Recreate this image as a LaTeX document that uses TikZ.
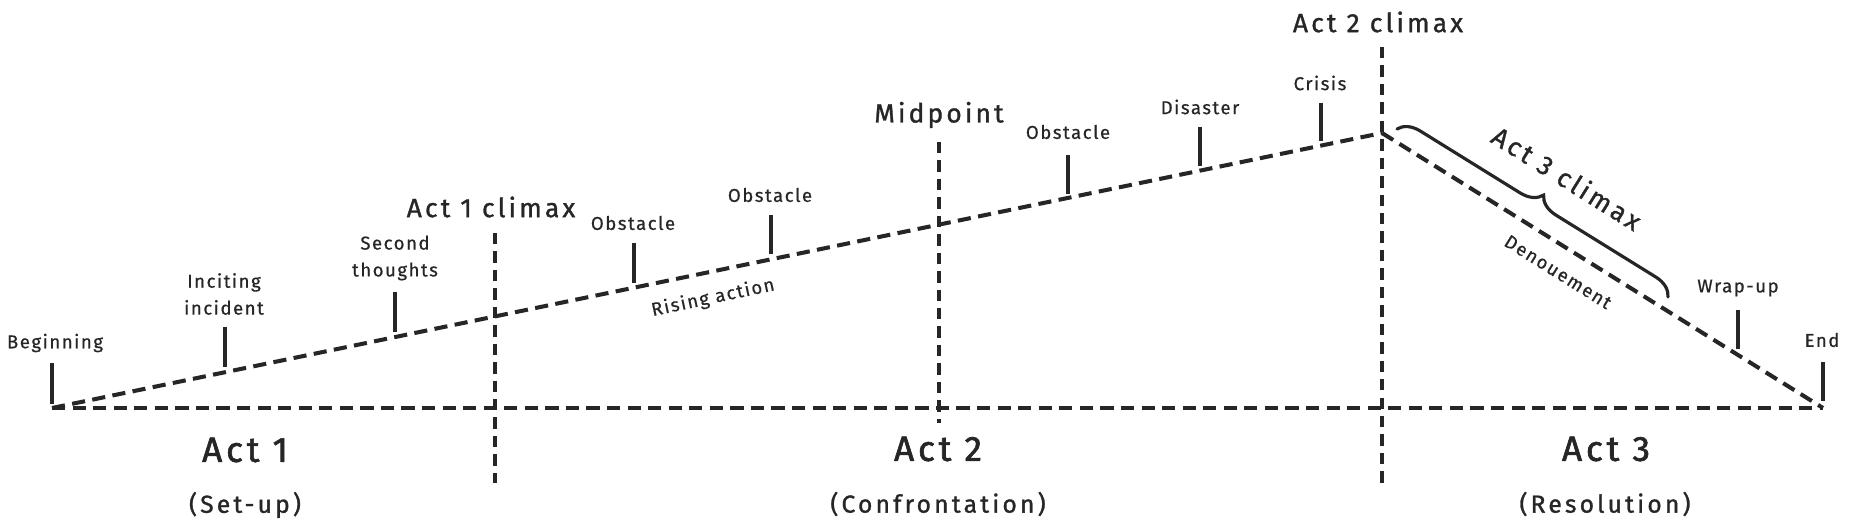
\documentclass[tikz,border=0pt]{standalone}
\usepackage{fontspec}
\setmainfont{Fira Sans}[LetterSpace=8, FakeBold=0.6]
\newfontfamily\bigfont{Fira Sans}[LetterSpace=12, FakeBold=1.2]
\newfontfamily\actfont{Fira Sans}[LetterSpace=11, FakeBold=1.8]
\newfontfamily\subfont{Fira Sans}[LetterSpace=13, FakeBold=1.2]
\usetikzlibrary{decorations.pathreplacing}
\definecolor{ink}{HTML}{262626}
\tikzset{
  dline/.style={draw=ink, line width=2.3pt, dash pattern=on 7.5pt off 4.2pt},
  vline/.style={draw=ink, line width=2.1pt, dash pattern=on 6.5pt off 4pt},
  tick/.style={draw=ink, line width=2.2pt},
  small/.style={text=ink, font=\fontsize{10.6}{15.3}\selectfont, align=center, inner sep=0pt},
  big/.style={text=ink, font=\bigfont\fontsize{15}{17}\selectfont, inner sep=0pt},
  actlbl/.style={text=ink, font=\actfont\fontsize{20}{22}\selectfont, inner sep=0pt},
  sublbl/.style={text=ink, font=\subfont\fontsize{14}{16}\selectfont, inner sep=0pt},
  bracestyle/.style={draw=ink, line width=1.8pt, line cap=round, decorate,
     decoration={brace, amplitude=12pt}}
}
\begin{document}
\begin{tikzpicture}[x=0.02cm, y=-0.02cm]
\useasboundingbox (0,0) rectangle (1855,530);
% main points
\coordinate (B) at (52,408);
\coordinate (A) at (1382,133);
\coordinate (E) at (1823,408);
% main lines
\draw[dline] (B) -- (E);
\draw[dline] (B) -- (A);
\draw[dline] (A) -- (E);
% act dividers
\coordinate (c1t) at (495,233); \coordinate (c1b) at (495,483);
\coordinate (mpt) at (939,142); \coordinate (mpb) at (939,423);
\coordinate (c2t) at (1382,47);  \coordinate (c2b) at (1382,483);
\draw[vline] (c1t) -- (c1b);
\draw[vline] (mpt) -- (mpb);
\draw[vline] (c2t) -- (c2b);
% ticks
\coordinate (t0a) at (52,404);   \coordinate (t0b) at (52,363);
\coordinate (t1a) at (225,367);  \coordinate (t1b) at (225,327);
\coordinate (t2a) at (395,332);  \coordinate (t2b) at (395,292);
\coordinate (t3a) at (634,283);  \coordinate (t3b) at (634,243);
\coordinate (t4a) at (771,254);  \coordinate (t4b) at (771,215);
\coordinate (t5a) at (1068,194); \coordinate (t5b) at (1068,155);
\coordinate (t6a) at (1200,166); \coordinate (t6b) at (1200,127);
\coordinate (t7a) at (1321,141); \coordinate (t7b) at (1321,103);
\coordinate (t8a) at (1738,349); \coordinate (t8b) at (1738,310);
\coordinate (t9a) at (1823,401); \coordinate (t9b) at (1823,362);
\foreach \i in {0,...,9} { \draw[tick] (t\i a) -- (t\i b); }
% labels
\node[small] (beg) at (55,343) {Beginning};
\node[small] (inc) at (224,294) {Inciting\\incident};
\node[small] (sec) at (395,258) {Second\\thoughts};
\node[big]   (a1c) at (491,207) {Act 1 climax};
\node[small] (ob1) at (633,223) {Obstacle};
\node[small] (ob2) at (770,195) {Obstacle};
\node[small, rotate=12] (ris) at (713,298) {Rising action};
\node[big]   (mid) at (939,115) {Midpoint};
\node[small] (ob3) at (1068,132) {Obstacle};
\node[small] (dis) at (1200,107) {Disaster};
\node[small] (cri) at (1320,83) {Crisis};
\node[big]   (a2c) at (1378,22) {Act 2 climax};
\node[big, rotate=-32] (a3c) at (1567,178) {Act 3 climax};
\node[small, rotate=-32] (den) at (1558,272) {Denouement};
\node[small] (wra) at (1738,288) {Wrap-up};
\node[small] (end) at (1822,340) {End};
% brace
\coordinate (br1) at (1397,129);
\coordinate (br2) at (1668,297);
\draw[bracestyle] (br1) -- (br2);
% act labels
\node[actlbl] (act1) at (245,450) {Act 1};
\node[sublbl] (set)  at (245,505) {(Set-up)};
\node[actlbl] (act2) at (938,449) {Act 2};
\node[sublbl] (con)  at (938,504) {(Confrontation)};
\node[actlbl] (act3) at (1606,449) {Act 3};
\node[sublbl] (res)  at (1605,504) {(Resolution)};
\end{tikzpicture}
\end{document}
